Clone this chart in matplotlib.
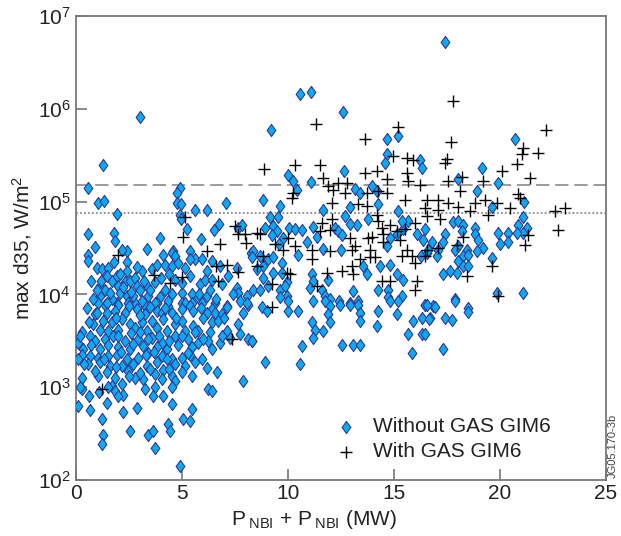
import numpy as np
import matplotlib
matplotlib.use("Agg")
import matplotlib.pyplot as plt
from matplotlib.ticker import NullLocator

plt.rcParams['font.family'] = ['Liberation Sans', 'DejaVu Sans']
plt.rcParams['mathtext.fontset'] = 'custom'
plt.rcParams['mathtext.rm'] = 'Liberation Sans'
plt.rcParams['mathtext.it'] = 'Liberation Sans:italic'

axesColour = '#777777'
diamondFill = '#0aaaf0'
diamondEdge = '#2e3a96'

# (P_NBI in MW, log10 of max d35 in W/m^2)
withoutGas = [
    (17.43, 6.72), (10.58, 6.16), (11.07, 6.18), (12.58, 5.97), (3.00, 5.91), (9.20, 5.77),
    (14.65, 5.67), (15.20, 5.71), (20.70, 5.67),
    (1.26, 5.40), (0.55, 5.15), (1.05, 4.99), (1.33, 5.01), (1.93, 4.87), (0.55, 4.65), (1.80, 4.66),
    (1.84, 4.58), (0.90, 4.51), (0.55, 4.42), (0.55, 4.36), (2.39, 4.47), (2.39, 4.35), (2.15, 4.48),
    (3.33, 4.49), (3.96, 4.61), (4.90, 5.15), (4.75, 5.09), (4.75, 4.99), (4.95, 4.97), (4.90, 4.86),
    (4.95, 4.81), (5.22, 4.70), (5.60, 4.91), (6.16, 4.91), (7.08, 4.98), (5.90, 4.60), (6.52, 4.69),
    (6.75, 4.76), (4.12, 4.43), (4.59, 4.47), (5.38, 4.47), (7.66, 4.72), (7.81, 4.75), (8.25, 4.45),
    (7.60, 4.28), (7.10, 3.87),
    (0.97, 4.29), (1.21, 4.27), (1.52, 4.29), (1.44, 4.20), (1.13, 4.09), (1.37, 4.05), (1.68, 4.14),
    (1.92, 4.20), (2.07, 4.22), (1.99, 4.09), (2.31, 4.13), (2.54, 4.14), (2.78, 4.18), (2.86, 4.09),
    (3.10, 4.25), (3.33, 4.09), (3.57, 4.27), (3.80, 4.32), (4.20, 4.32), (4.51, 4.45), (4.67, 4.41),
    (4.51, 4.31), (4.82, 4.34), (5.14, 4.29), (5.37, 4.20), (5.61, 4.38), (5.92, 4.38), (6.16, 4.25),
    (6.40, 4.36), (5.37, 4.38), (4.67, 4.16), (4.98, 4.02), (5.45, 4.00), (5.85, 4.11), (6.08, 4.16),
    (5.77, 3.97), (6.40, 4.16), (6.87, 4.11), (7.18, 4.20), (7.61, 4.07), (7.65, 4.02), (8.05, 3.98),
    (6.79, 4.31), (3.72, 4.13), (3.96, 3.97), (4.51, 4.00), (4.20, 4.05), (3.02, 4.05), (3.41, 3.98),
    (2.39, 3.98), (2.78, 3.91), (1.92, 3.91), (1.13, 3.98), (1.37, 3.89), (1.68, 3.95), (2.07, 4.02),
    (3.80, 3.91), (3.25, 3.88), (2.70, 3.98), (4.98, 3.91), (4.35, 3.88), (5.45, 3.91), (6.16, 3.98),
    (6.55, 3.91), (8.13, 3.89), (8.36, 4.05),
    (14.66, 5.51), (14.58, 5.42), (16.23, 5.45), (16.31, 5.36), (9.99, 5.29), (10.25, 5.22),
    (10.41, 5.13), (11.07, 5.21), (12.64, 5.33), (8.84, 5.02), (9.63, 4.95), (9.15, 4.83), (9.55, 4.83),
    (8.92, 4.72), (9.31, 4.74), (9.47, 4.68), (9.23, 4.64), (10.07, 4.72), (10.33, 4.70), (10.65, 4.69),
    (9.78, 4.61), (9.59, 4.54), (10.88, 4.57), (11.20, 4.73), (11.35, 4.62), (11.67, 4.91), (12.69, 4.85),
    (12.93, 4.94), (13.16, 5.14), (13.40, 5.09), (13.79, 4.81), (14.26, 4.97), (13.95, 5.17), (14.18, 5.11),
    (12.22, 4.72), (12.38, 4.68), (12.53, 4.64), (13.24, 4.75), (12.93, 4.76), (11.67, 4.49), (12.49, 4.48),
    (10.49, 4.43), (8.37, 4.47), (8.29, 4.40), (8.68, 4.41), (8.84, 4.31), (9.07, 4.38), (9.31, 4.40),
    (9.70, 4.34), (8.52, 4.27), (8.84, 4.18), (9.31, 4.23), (9.70, 4.23), (9.94, 4.13), (8.68, 4.05),
    (9.07, 4.09), (9.63, 4.05), (9.86, 4.09), (9.94, 3.98), (9.63, 3.97), (11.12, 4.22), (11.20, 4.14),
    (11.04, 4.07), (11.59, 4.05), (11.75, 3.98), (11.98, 3.95), (11.90, 4.16), (12.42, 3.93), (12.93, 3.91),
    (13.32, 3.93), (13.08, 4.04), (13.56, 4.31), (13.71, 4.22), (14.34, 4.31), (14.81, 4.32), (15.13, 4.22),
    (15.44, 4.16), (14.26, 4.05), (14.74, 4.05), (14.74, 3.97), (15.36, 3.98), (14.81, 4.61), (15.13, 4.65),
    (15.44, 4.70), (15.68, 4.79), (16.07, 4.65), (16.39, 4.59), (16.46, 4.70), (16.26, 4.41), (16.54, 4.45),
    (14.66, 4.52), (15.21, 4.90), (15.36, 4.79), (16.46, 3.89),
    (19.13, 5.36), (18.03, 5.24), (19.92, 5.20), (18.90, 5.12), (21.15, 5.00), (19.60, 4.94), (21.10, 4.83),
    (20.86, 4.75), (21.26, 4.72), (21.10, 4.66), (17.80, 4.78), (18.03, 4.79), (18.27, 4.75), (18.19, 4.68),
    (18.82, 4.72), (18.82, 4.65), (18.98, 4.59), (19.21, 4.50), (18.90, 4.47), (18.43, 4.48), (18.03, 4.52),
    (17.87, 4.48), (18.27, 4.41), (18.50, 4.43), (17.40, 4.65), (17.32, 4.57), (17.09, 4.48), (16.77, 4.56),
    (16.62, 4.48), (17.01, 4.41), (19.92, 4.66), (20.39, 4.66), (20.78, 4.66), (20.00, 4.54), (20.39, 4.56),
    (19.60, 4.39), (18.03, 4.36), (18.27, 4.31), (18.50, 4.31), (17.64, 4.25), (17.32, 4.22), (17.95, 4.23),
    (19.84, 4.02), (21.10, 4.01), (17.87, 3.95), (16.85, 3.88), (18.50, 3.85),
    (1.05, 3.91), (1.44, 3.91), (1.99, 3.89), (2.47, 3.91), (3.10, 3.93), (3.72, 3.91), (4.35, 3.93),
    (5.14, 3.91), (5.37, 3.87), (5.92, 3.91), (6.40, 3.84), (7.10, 3.86), (7.73, 3.93), (8.05, 3.91),
    (0.89, 3.79), (1.44, 3.80), (1.84, 3.82), (2.31, 3.80), (2.86, 3.84), (3.25, 3.79), (3.80, 3.82),
    (4.04, 3.80), (4.51, 3.80), (4.98, 3.84), (5.53, 3.82), (6.16, 3.80), (6.55, 3.80), (6.87, 3.79),
    (0.81, 3.68), (1.29, 3.71), (1.68, 3.70), (2.15, 3.73), (2.54, 3.68), (3.10, 3.70), (3.57, 3.71),
    (4.12, 3.73), (4.67, 3.68), (4.98, 3.71), (5.53, 3.66), (6.00, 3.75), (6.40, 3.70), (6.71, 3.71),
    (7.10, 3.61), (7.65, 3.68), (7.73, 3.57), (0.26, 3.59), (0.66, 3.55), (1.13, 3.62), (1.52, 3.61),
    (1.99, 3.62), (2.78, 3.64), (3.33, 3.61), (3.80, 3.64), (4.27, 3.61), (5.14, 3.61), (5.77, 3.61),
    (6.32, 3.59),
    (0.11, 3.48), (0.34, 3.41), (0.89, 3.50), (1.37, 3.52), (1.76, 3.55), (2.31, 3.50), (2.94, 3.52),
    (3.57, 3.53), (4.04, 3.48), (4.67, 3.55), (5.30, 3.52), (5.77, 3.48), (6.24, 3.50), (6.79, 3.48),
    (7.26, 3.53), (8.13, 3.52), (8.28, 3.50), (1.13, 3.41), (1.99, 3.43), (2.54, 3.41), (3.17, 3.44),
    (3.80, 3.43), (4.27, 3.41), (4.82, 3.46), (5.45, 3.43), (6.40, 3.41),
    (0.26, 3.35), (0.66, 3.34), (1.05, 3.32), (1.52, 3.34), (1.92, 3.35), (2.39, 3.30), (2.94, 3.32),
    (3.41, 3.37), (4.04, 3.34), (4.51, 3.30), (4.98, 3.32), (5.37, 3.35), (5.92, 3.30), (0.58, 3.25),
    (1.13, 3.27), (1.60, 3.23), (2.15, 3.23), (2.70, 3.25), (3.33, 3.23), (3.80, 3.27), (4.12, 3.19),
    (4.67, 3.25), (5.14, 3.23), (5.61, 3.27), (6.16, 3.21),
    (1.05, 3.12), (1.44, 3.16), (1.84, 3.10), (2.47, 3.18), (2.78, 3.10), (3.17, 3.09), (3.72, 3.14),
    (4.04, 3.09), (4.51, 3.12), (4.98, 3.16), (5.45, 3.12), (4.67, 3.07), (6.63, 3.16), (7.89, 3.07),
    (1.68, 3.01), (2.15, 3.03), (0.26, 2.98), (1.52, 3.00), (1.84, 2.96), (2.23, 2.92), (3.25, 2.98),
    (3.72, 3.00), (4.12, 2.91), (4.51, 3.00), (6.24, 2.98), (6.40, 2.96), (3.65, 2.91),
    (0.11, 2.80), (0.66, 2.75), (1.44, 2.83), (2.23, 2.73), (2.86, 2.78), (4.51, 2.82), (1.21, 2.66),
    (2.54, 2.53), (3.41, 2.49), (3.65, 2.53), (4.35, 2.60), (4.43, 2.53), (5.06, 2.66), (5.37, 2.64),
    (5.45, 2.76), (1.29, 2.48), (1.21, 2.39), (3.72, 2.35), (4.90, 2.15),
    (0.70, 4.15), (1.00, 4.05), (1.60, 4.02), (2.20, 4.08), (2.60, 4.03), (3.20, 4.15), (3.50, 4.05),
    (4.00, 4.18), (4.40, 4.22), (5.00, 4.12), (2.40, 4.25), (2.90, 4.30), (1.80, 4.35), (1.20, 4.15),
    (0.80, 3.95), (1.90, 3.75), (2.50, 3.88), (3.00, 3.78), (3.50, 3.86), (4.20, 3.85), (4.70, 3.75),
    (0.50, 3.85), (0.60, 3.70), (1.00, 3.80), (2.00, 3.55), (2.60, 3.58), (3.00, 3.60), (3.40, 3.52),
    (3.90, 3.55), (4.40, 3.50), (0.70, 3.45), (1.50, 3.45), (2.10, 3.38), (2.70, 3.47), (3.30, 3.35),
    (3.70, 3.38), (4.30, 3.30), (0.40, 3.25), (0.90, 3.18), (1.30, 3.30), (1.90, 3.22), (2.50, 3.12),
    (3.00, 3.15), (3.50, 3.20), (4.40, 3.20), (5.30, 3.37), (5.60, 3.60), (6.00, 3.52), (5.90, 3.85),
    (6.60, 3.95), (7.00, 3.75), (6.90, 3.55), (5.00, 3.55), (5.80, 4.00), (6.30, 4.05), (7.40, 4.00),
    (7.90, 3.80), (0.30, 3.10), (0.20, 3.00), (1.10, 2.95), (2.00, 2.90), (0.60, 2.90), (0.10, 3.30),
    (0.20, 3.55),
    (8.29, 3.50), (8.76, 3.86), (9.00, 3.82), (10.02, 3.82), (10.49, 3.82), (10.02, 3.93), (11.20, 3.93),
    (11.75, 3.93), (11.98, 3.87), (12.46, 3.89), (12.93, 3.89), (13.32, 3.89), (11.90, 3.79), (11.98, 3.70),
    (11.12, 3.70), (11.28, 3.62), (11.20, 3.53), (11.67, 3.61), (13.40, 3.80), (13.40, 3.71), (10.65, 3.44),
    (10.57, 3.25), (8.92, 3.27), (12.53, 3.46), (13.08, 3.46), (13.40, 3.46), (14.26, 3.82), (14.18, 3.66),
    (14.81, 3.93), (15.13, 3.79), (15.21, 3.93), (15.91, 3.71), (16.31, 3.75), (16.46, 3.89), (16.70, 3.75),
    (15.68, 3.57), (16.31, 3.57), (15.84, 3.37),
    (16.54, 3.89), (16.93, 3.86), (17.88, 3.93), (18.50, 3.81), (16.65, 3.73), (17.40, 3.75), (17.72, 3.72),
    (17.32, 3.41), (16.46, 3.57),
]

withGas = [
    (11.30, 5.84), (17.80, 6.09), (15.20, 5.80), (13.63, 5.67), (17.69, 5.64), (22.17, 5.77), (21.10, 5.58),
    (5.14, 4.83), (5.06, 4.62), (6.16, 4.47), (6.79, 4.54), (7.50, 4.74), (7.62, 4.65), (7.97, 4.65),
    (8.00, 4.55), (6.59, 4.31), (7.10, 4.32), (7.62, 4.24), (6.68, 4.14), (4.98, 4.19), (4.43, 4.12),
    (3.69, 4.21), (1.96, 4.43),
    (8.87, 5.35), (10.33, 5.40), (11.51, 5.39), (11.67, 5.26), (11.90, 5.17), (12.14, 5.13), (12.38, 5.20),
    (12.77, 5.20), (10.18, 5.04), (10.25, 5.09), (12.69, 5.09), (13.63, 5.31), (14.18, 5.33), (14.66, 5.24),
    (14.26, 5.11), (14.66, 5.09), (13.71, 5.09), (14.97, 5.49), (15.60, 5.47), (15.91, 5.45), (15.60, 5.31),
    (15.68, 5.22), (16.23, 5.18), (15.52, 5.02), (16.54, 5.02), (16.46, 4.93), (16.54, 4.84), (12.06, 4.99),
    (12.06, 4.81), (11.59, 4.77), (11.98, 4.69), (11.51, 4.68), (13.32, 4.97), (13.71, 4.95), (14.18, 4.86),
    (14.26, 4.79), (14.42, 4.72), (14.81, 4.75), (15.13, 4.68), (15.52, 4.70), (16.00, 4.77), (12.93, 4.61),
    (13.00, 4.48), (13.16, 4.52), (13.40, 4.38), (13.87, 4.48), (13.79, 4.61), (13.95, 4.62), (14.10, 4.40),
    (13.87, 4.40), (14.50, 4.57), (14.50, 4.65), (15.29, 4.59), (15.60, 4.48), (15.84, 4.41), (16.00, 4.34),
    (15.36, 4.41), (16.46, 4.41), (8.52, 4.66), (8.68, 4.65), (9.39, 4.54), (9.78, 4.48), (10.02, 4.61),
    (10.33, 4.52), (11.12, 4.48), (11.12, 4.38), (11.98, 4.47), (8.84, 4.41), (8.52, 4.31), (9.94, 4.23),
    (10.10, 4.22), (9.23, 4.11), (11.35, 4.09), (11.83, 4.23), (12.53, 4.25), (13.08, 4.22), (13.00, 4.31),
    (14.42, 4.14), (14.81, 4.14), (16.07, 4.14), (16.00, 4.05), (9.23, 3.86),
    (17.48, 5.46), (17.40, 5.42), (21.02, 5.51), (21.80, 5.52), (20.78, 5.41), (20.08, 5.33), (18.19, 5.27),
    (17.56, 5.22), (19.21, 5.22), (21.41, 5.26), (18.11, 5.11), (17.09, 5.02), (17.56, 4.99), (18.03, 4.94),
    (18.58, 4.90), (18.82, 4.99), (19.29, 5.02), (19.84, 4.99), (20.86, 5.08), (20.94, 5.04), (20.47, 4.93),
    (19.45, 4.86), (17.09, 4.91), (17.17, 4.81), (22.59, 4.90), (23.06, 4.93), (22.75, 4.69), (21.33, 4.64),
    (21.18, 4.53), (18.27, 4.62), (17.95, 4.53), (17.09, 4.50), (16.54, 4.48), (19.60, 4.31), (18.43, 4.20),
    (19.92, 3.98),
    (1.21, 2.98), (7.34, 3.52),
]

dashedLevel = 1.5e5
dottedLevel = 7.5e4

xTicks = [0, 5, 10, 15, 20, 25]
yTicks = [1e2, 1e3, 1e4, 1e5, 1e6, 1e7]

diamondMarker = [(0, 1), (0.72, 0), (0, -1), (-0.72, 0), (0, 1)]


def d35Figure():
    """
    Scatter of max d35 against heating power, with and without GAS GIM6.
    """
    xWithout = [p[0] for p in withoutGas]
    yWithout = 10 ** np.array([p[1] for p in withoutGas])
    xWith = [p[0] for p in withGas]
    yWith = 10 ** np.array([p[1] for p in withGas])

    fig = plt.figure(figsize=(6.21, 5.36), dpi=100)
    ax = fig.add_axes([0.1224, 0.1045, 0.8534, 0.8655])

    ax.axhline(dashedLevel, color='#8a8a8a', lw=1.2, linestyle=(0, (8, 3.5)), zorder=1)
    ax.axhline(dottedLevel, color='#8a8a8a', lw=1.3, linestyle=(0, (1, 1.2)), zorder=1)

    ax.scatter(xWithout, yWithout, marker=diamondMarker, s=76, facecolor=diamondFill,
               edgecolor=diamondEdge, linewidths=0.8, zorder=3, label='Without GAS GIM6')
    ax.scatter(xWith, yWith, marker='+', s=85, color='black', linewidths=1.0, zorder=4,
               label='With GAS GIM6')

    ax.set_yscale('log')
    ax.set_xlim(0, 25)
    ax.set_ylim(1e2, 1e7)
    ax.set_xticks(xTicks)
    ax.set_yticks(yTicks)
    ax.yaxis.set_minor_locator(NullLocator())

    ax.spines[:].set_color(axesColour)
    ax.spines[:].set_linewidth(1.3)
    ax.tick_params(direction='in', length=8, width=1.2, color=axesColour, labelsize=15,
                   labelcolor='#222222', pad=4)
    ax.tick_params(axis='x', pad=3)

    ax.set_xlabel(r'P$_{\;\mathrm{NBI}}$ + P$_{\;\mathrm{NBI}}$ (MW)', fontsize=15, color='#222222')
    ax.set_ylabel(r'max d35, W/m$^2$', fontsize=15, color='#222222')
    ax.xaxis.set_label_coords(0.45, -0.060)
    ax.yaxis.set_label_coords(-0.080, 0.5)

    ax.legend(loc='lower left', bbox_to_anchor=(0.49, 0.04), frameon=False, fontsize=15,
              handlelength=1.0, handletextpad=0.8, labelspacing=0.3, borderpad=0,
              borderaxespad=0, labelcolor='#222222')

    fig.text(0.987, 0.108, 'JG05.170-3b', rotation=90, fontsize=8, color='#444444',
             ha='center', va='bottom')

    plt.savefig('out.png', dpi=100)


if __name__ == "__main__":
    d35Figure()
